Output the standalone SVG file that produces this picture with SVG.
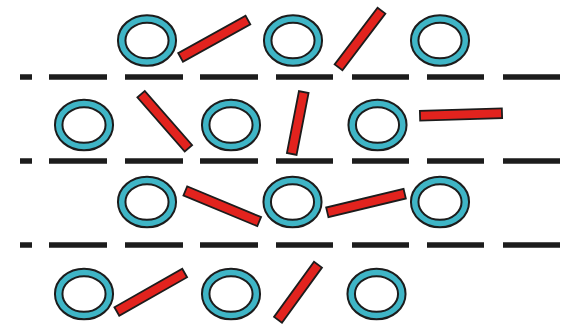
<svg xmlns="http://www.w3.org/2000/svg" width="567" height="324" viewBox="0 0 567 324">
<defs>
<style>
.dash{fill:none;stroke:#1c1c1c;stroke-width:5.5}
.ob{fill:#fff;stroke:#1c1c1c;stroke-width:9.5}
.ot{fill:none;stroke:#3fb5c6;stroke-width:5.5}
.st{fill:#e2231e;stroke:#1c1c1c;stroke-width:1.8}
</style>
<g id="ring"><ellipse class="ob" rx="25.3" ry="21.6"/><ellipse class="ot" rx="25.3" ry="21.6"/></g>
</defs>
<rect width="567" height="324" fill="#fff"/>
<g id="lines">
<path class="dash" d="M20 77H32M49 77H107M125 77H183M200 77H258M276 77H333M352 77H409M427 77H484M503 77H560"/>
<path class="dash" d="M20 161H32M49 161H107M125 161H183M200 161H258M276 161H333M352 161H409M427 161H484M503 161H560"/>
<path class="dash" d="M20 245H32M49 245H107M125 245H183M200 245H258M276 245H333M352 245H409M427 245H484M503 245H560"/>
</g>
<g id="rings">
<use id="o11" href="#ring" x="147" y="40.5"/>
<use id="o12" href="#ring" x="293" y="40.5"/>
<use id="o13" href="#ring" x="440" y="40.5"/>
<use id="o21" href="#ring" x="84" y="125"/>
<use id="o22" href="#ring" x="231" y="125"/>
<use id="o23" href="#ring" x="377.5" y="125"/>
<use id="o31" href="#ring" x="147" y="202"/>
<use id="o32" href="#ring" x="292.5" y="202"/>
<use id="o33" href="#ring" x="440" y="202"/>
<use id="o41" href="#ring" x="84" y="294"/>
<use id="o42" href="#ring" x="231" y="294"/>
<use id="o43" href="#ring" x="376.5" y="294"/>
</g>
<g id="sticks">
<rect class="st" x="-38.5" y="-4.9" width="77" height="9.8" transform="translate(214.25 38.75) rotate(-29)"/>
<rect class="st" x="-35.5" y="-4.9" width="71" height="9.8" transform="translate(360 39) rotate(-52.8)"/>
<rect class="st" x="-36" y="-4.9" width="72" height="9.8" transform="translate(164.75 121.25) rotate(48.9)"/>
<rect class="st" x="-31.5" y="-4.9" width="63" height="9.8" transform="translate(297.75 123) rotate(101)"/>
<rect class="st" x="-41" y="-4.9" width="82" height="9.8" transform="translate(461 114.5) rotate(-1.7)"/>
<rect class="st" x="-40" y="-4.9" width="80" height="9.8" transform="translate(222.25 206.25) rotate(22.6)"/>
<rect class="st" x="-39.8" y="-4.9" width="79.6" height="9.8" transform="translate(366 203) rotate(-13.5)"/>
<rect class="st" x="-39" y="-4.9" width="78" height="9.8" transform="translate(150.75 292.25) rotate(-29.6)"/>
<rect class="st" x="-34" y="-4.9" width="68" height="9.8" transform="translate(298 292.25) rotate(-54)"/>
</g>
</svg>
